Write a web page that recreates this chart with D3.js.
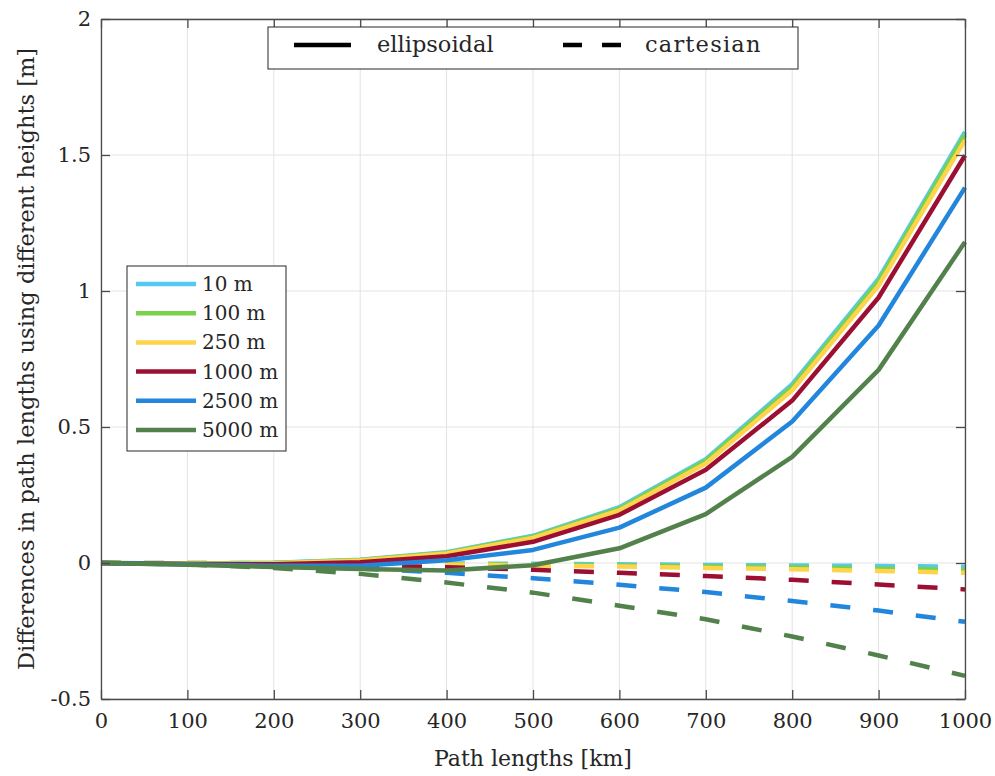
<!DOCTYPE html>
<html>
<head>
<meta charset="UTF-8" />
<script src="https://cdn.jsdelivr.net/npm/d3@7"></script>
<style>
  body { margin: 0; background: #fff; }
  svg text { font-family: "DejaVu Serif", "Liberation Serif", "Times New Roman", serif; fill: #262626; }
</style>
</head>
<body>
<div id="chart"></div>
<script>
// path lengths [km]
const lengths = [0, 100, 200, 300, 400, 500, 600, 700, 800, 900, 1000];
const heights = ["10 m", "100 m", "250 m", "1000 m", "2500 m", "5000 m"];
const colors = ["#55c9f2", "#79d24c", "#fdd44b", "#9c0f32", "#2286dc", "#53814b"];

// ellipsoidal differences [m]
const ellipsoidal = [
  [0, -0.002, 0.001, 0.012, 0.040, 0.100, 0.205, 0.382, 0.657, 1.045, 1.585],
  [0, -0.002, 0.000, 0.011, 0.038, 0.097, 0.200, 0.376, 0.648, 1.035, 1.575],
  [0, -0.003, -0.001, 0.009, 0.035, 0.092, 0.193, 0.366, 0.635, 1.020, 1.555],
  [0, -0.004, -0.005, 0.003, 0.025, 0.078, 0.177, 0.343, 0.597, 0.976, 1.498],
  [0, -0.005, -0.010, -0.010, 0.010, 0.048, 0.130, 0.277, 0.520, 0.873, 1.380],
  [0, -0.006, -0.015, -0.022, -0.028, -0.008, 0.054, 0.180, 0.390, 0.710, 1.180]
];
// cartesian differences [m]
const cartesian = [
  [0, 0, 0, -0.001, -0.002, -0.003, -0.005, -0.007, -0.009, -0.011, -0.014],
  [0, 0, -0.001, -0.002, -0.004, -0.006, -0.009, -0.012, -0.016, -0.020, -0.025],
  [0, 0, -0.001, -0.003, -0.006, -0.009, -0.013, -0.018, -0.023, -0.029, -0.036],
  [0, -0.001, -0.004, -0.009, -0.016, -0.025, -0.036, -0.048, -0.062, -0.079, -0.097],
  [0, -0.002, -0.009, -0.020, -0.036, -0.056, -0.080, -0.107, -0.140, -0.175, -0.216],
  [0, -0.005, -0.018, -0.040, -0.072, -0.109, -0.157, -0.207, -0.270, -0.340, -0.415]
];
const xTicks = d3.range(0, 1001, 100);
const yTicks = [-0.5, 0, 0.5, 1, 1.5, 2];

const serif = "'DejaVu Serif', 'Liberation Serif', 'Times New Roman', serif";
const width = 995, height = 776;
const margin = {top: 19, right: 30, bottom: 77, left: 101};

const svg = d3.select("#chart").append("svg")
  .attr("width", width)
  .attr("height", height)
  .attr("font-family", serif);

const x = d3.scaleLinear().domain([0, 1000]).range([margin.left, width - margin.right]);
const y = d3.scaleLinear().domain([-0.5, 2]).range([height - margin.bottom, margin.top]);

// grid
svg.append("g")
  .selectAll("line.gx")
  .data(xTicks)
  .join("line")
  .attr("x1", d => x(d)).attr("x2", d => x(d))
  .attr("y1", y(-0.5)).attr("y2", y(2))
  .attr("stroke", "#e3e3e3").attr("stroke-width", 1);
svg.append("g")
  .selectAll("line.gy")
  .data(yTicks)
  .join("line")
  .attr("x1", x(0)).attr("x2", x(1000))
  .attr("y1", d => y(d)).attr("y2", d => y(d))
  .attr("stroke", "#e3e3e3").attr("stroke-width", 1);

// lines
const line = d3.line().x((d, i) => x(lengths[i])).y(d => y(d));

svg.append("g")
  .selectAll("path")
  .data(cartesian)
  .join("path")
  .attr("d", line)
  .attr("fill", "none")
  .attr("stroke", (d, i) => colors[i])
  .attr("stroke-width", 4.5)
  .attr("stroke-dasharray", "20,23");

svg.append("g")
  .selectAll("path")
  .data(ellipsoidal)
  .join("path")
  .attr("d", line)
  .attr("fill", "none")
  .attr("stroke", (d, i) => colors[i])
  .attr("stroke-width", 4.5)
  .attr("stroke-linejoin", "round");

// axes (MATLAB style, ticks inward, box)
const tickLen = 9;
const xAxis = svg.append("g").attr("transform", `translate(0,${y(-0.5)})`)
  .call(d3.axisBottom(x).tickValues(xTicks).tickSizeInner(-tickLen).tickSizeOuter(0).tickPadding(14).tickFormat(d3.format("d")));
const xAxisTop = svg.append("g").attr("transform", `translate(0,${y(2)})`)
  .call(d3.axisTop(x).tickValues(xTicks).tickSizeInner(-tickLen).tickSizeOuter(0).tickFormat(""));
const yAxis = svg.append("g").attr("transform", `translate(${x(0)},0)`)
  .call(d3.axisLeft(y).tickValues(yTicks).tickSizeInner(-tickLen).tickSizeOuter(0).tickPadding(10).tickFormat(d => d));
const yAxisRight = svg.append("g").attr("transform", `translate(${x(1000)},0)`)
  .call(d3.axisRight(y).tickValues(yTicks).tickSizeInner(-tickLen).tickSizeOuter(0).tickFormat(""));

[xAxis, xAxisTop, yAxis, yAxisRight].forEach(a => {
  a.attr("font-family", serif);
  a.select(".domain").attr("stroke", "#4a4a4a").attr("stroke-width", 1.3);
  a.selectAll(".tick line").attr("stroke", "#4a4a4a").attr("stroke-width", 1.3);
  a.selectAll(".tick text").attr("font-size", 21).attr("fill", "#262626");
});

// axis labels
svg.append("text")
  .attr("x", x(500)).attr("y", 766)
  .attr("text-anchor", "middle")
  .attr("font-size", 22)
  .text("Path lengths [km]");

svg.append("text")
  .attr("transform", `translate(34,${y(0.75)}) rotate(-90)`)
  .attr("text-anchor", "middle")
  .attr("font-family", serif)
  .attr("font-size", 22.5)
  .text("Differences in path lengths using different heights [m]");

// top legend (line style)
const lg1 = svg.append("g");
lg1.append("rect")
  .attr("x", 268).attr("y", 27).attr("width", 530).attr("height", 42)
  .attr("fill", "#fff").attr("stroke", "#262626").attr("stroke-width", 1);
lg1.append("line")
  .attr("x1", 294).attr("x2", 351).attr("y1", 45).attr("y2", 45)
  .attr("stroke", "#000").attr("stroke-width", 4.5);
lg1.append("text").attr("x", 377).attr("y", 52).attr("font-size", 22.5).text("ellipsoidal");
lg1.append("line")
  .attr("x1", 563).attr("x2", 621).attr("y1", 45).attr("y2", 45)
  .attr("stroke", "#000").attr("stroke-width", 4.5)
  .attr("stroke-dasharray", "19,20");
lg1.append("text").attr("x", 645).attr("y", 52).attr("font-size", 22.5)
  .attr("letter-spacing", 1.2).text("cartesian");

// height legend
const lg2 = svg.append("g");
lg2.append("rect")
  .attr("x", 127).attr("y", 266).attr("width", 159).attr("height", 185)
  .attr("fill", "#fff").attr("stroke", "#262626").attr("stroke-width", 1);
const items = lg2.selectAll("g.item")
  .data(heights)
  .join("g")
  .attr("transform", (d, i) => `translate(0,${284 + i * 29.2})`);
items.append("line")
  .attr("x1", 136).attr("x2", 196)
  .attr("stroke", (d, i) => colors[i]).attr("stroke-width", 4.5);
items.append("text")
  .attr("x", 202).attr("y", 7)
  .attr("font-size", 20)
  .text(d => d);
</script>
</body>
</html>
